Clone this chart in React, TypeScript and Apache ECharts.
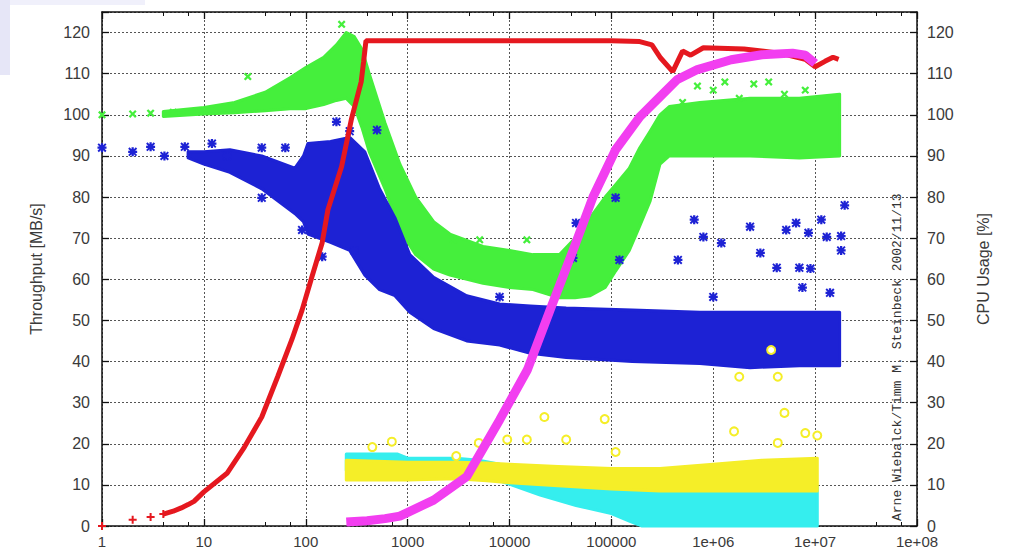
import React, { useEffect, useRef } from "react";
import * as echarts from "echarts";

// ---------- tick labels ----------
const xTickLabels = ["1", "10", "100", "1000", "10000", "100000", "1e+06", "1e+07", "1e+08"];

// ---------- Throughput: red (+) ----------
const redMarkX = [1, 2, 3, 4];
const redMarkY = [0, 1.5, 2.2, 2.9];
const redX = [4, 5, 6, 7, 8, 10, 17, 25, 37, 53, 73, 92, 115, 145, 165, 225, 280, 310, 350, 370, 390, 1000, 10000, 100000,
  190000, 250000, 300000, 400000, 500000, 600000, 800000, 2000000, 4500000, 8000000, 10000000, 12500000, 15000000, 17000000];
const redY = [2.9, 3.6, 4.4, 5.2, 6, 8.3, 12.9, 19.2, 26.5, 36.3, 45.3, 52.5, 60.6, 68.9, 76.9, 87.4, 98.8, 103, 108, 113, 118, 118, 118, 118,
  117.8, 117, 114, 110.5, 115.5, 114.5, 116.3, 116, 115, 113.5, 111.7, 113, 114, 113.5];

// ---------- Throughput: green (x) ----------
const greenX = [4, 10, 20, 40, 70, 100, 150, 200, 250, 300, 355, 420, 600, 840, 1200, 1800, 2600, 5500, 10000, 17000,
  31000, 44000, 62000, 87000, 110000, 150000, 190000, 240000, 300000, 370000, 740000, 2300000, 7000000, 17400000];
const greenUp = [100.8, 101.8, 103, 105.5, 109, 111.5, 114, 117, 120, 119, 116, 110, 98, 88, 80, 74, 71, 68, 67, 66,
  66, 70, 75, 80, 83, 87, 92, 96, 100, 102, 103, 104, 104, 105];
const greenLo = [99.6, 100.2, 100.5, 101, 101.5, 101.5, 102.5, 103.5, 104, 102, 97, 91, 82, 72, 66, 62.5, 61, 59, 58, 57.5,
  55.5, 55.5, 56, 58, 62, 67, 73, 79, 88, 90, 90, 90, 89.5, 90];
const greenPtX = [1, 2, 3, 5, 27, 225, 2800, 5100, 14800, 500000, 700000, 1000000, 1300000, 1800000, 2500000, 3500000, 5000000, 8000000];
const greenPtY = [100, 100.2, 100.4, 100.6, 109.3, 122, 69.6, 69.6, 69.6, 103, 107, 106, 108, 104, 107.5, 108, 105, 106];

// ---------- Throughput: blue (*) ----------
const blueX = [7, 10, 18, 37, 78, 95, 105, 175, 270, 380, 530, 750, 1050, 1800, 3800, 8000, 16000, 36000, 160000, 740000, 2300000, 7000000, 17400000];
const blueUp = [91, 91, 91.5, 90, 87, 90, 93, 93.5, 94.5, 91, 82, 75, 66, 60.5, 56, 54, 53.5, 53, 52.5, 52, 52, 52, 52];
const blueLo = [89.5, 88, 86, 82, 76, 74, 71, 69, 67, 61, 57.5, 56, 52, 48, 45, 44, 42, 41, 40, 39.5, 38.5, 39, 39];
const bluePtX = [1, 2, 3, 4.1, 6.5, 12, 17, 37, 63, 37, 92, 145, 300, 200, 270, 500, 8000, 42000, 45000, 110000, 120000,
  450000, 650000, 800000, 1200000, 1000000, 2300000, 2900000, 4200000, 5200000, 6500000, 7000000, 9000000, 8600000,
  11500000, 13000000, 18000000, 18000000, 19500000, 7500000, 14000000];
const bluePtY = [92, 91, 92.2, 90, 92.2, 93, 90, 92, 92, 79.8, 72, 65.5, 67, 98.3, 96, 96.3, 55.7, 65.2, 73.7, 79.8, 64.7,
  64.7, 74.5, 70.3, 68.8, 55.7, 72.8, 66.4, 62.8, 72, 73.7, 62.8, 62.6, 71.3,
  74.5, 70.3, 70.5, 67, 78, 58, 56.7];

// ---------- CPU: magenta ----------
const magX = [250, 400, 600, 840, 1800, 3800, 8000, 15000, 25000, 42000, 66000, 110000, 190000, 300000, 440000, 700000, 1500000, 3000000, 6000000, 8000000, 10000000];
const magY = [1, 1.3, 1.8, 2.4, 6.3, 12, 25.8, 38, 52.5, 67, 80, 91.5, 99.5, 104.4, 108.5, 111, 113.4, 114.6, 115, 114.5, 112.5];

// ---------- CPU: cyan ----------
const cyanX = [250, 800, 1000, 3000, 5000, 8000, 20000, 45000, 100000, 150000, 200000, 1000000, 10500000];
const cyanUp = [17.5, 17.5, 16.5, 16.5, 16, 15, 12, 10, 9.5, 9.5, 9.5, 9.5, 9.5];
const cyanLo = [13.5, 13.5, 13, 13, 13, 11, 7.5, 5, 3, 1.2, 0, 0, 0];

// ---------- CPU: yellow (o) ----------
const yelX = [250, 1000, 3000, 6000, 10000, 30000, 100000, 300000, 1000000, 3000000, 10500000];
const yelUp = [16, 15.5, 15.5, 15.3, 15, 14.5, 14, 14, 15, 16, 16.5];
const yelLo = [11.2, 11.2, 11.5, 11, 10.5, 9.8, 9, 8.5, 8.5, 8.5, 8.5];
const yelPtX = [450, 700, 3000, 5000, 9500, 14800, 22000, 36000, 86000, 110000, 1600000, 1800000, 4300000, 5000000, 4300000, 8000000, 10500000, 3700000];
const yelPtY = [19.2, 20.5, 17, 20.2, 21, 21, 26.5, 21, 26, 18, 23, 36.3, 36.3, 27.5, 20.2, 22.6, 22, 42.8];

const C_RED = "#e5181f";
const C_GREEN = "#45ef3c";
const C_BLUE = "#1d22d4";
const C_MAG = "#f23ef0";
const C_CYAN = "#35eeee";
const C_YEL = "#f5ee28";

const PLUS = "path://M3,0h2v3h3v2h-3v3h-2v-3h-3v-2h3z";
const STAR = "path://M3,0h2v3h3v2h-3v3h-2v-3h-3v-2h3z M1.2,0L8,6.8L6.8,8L0,1.2z M6.8,0L8,1.2L1.2,8L0,6.8z";

const FONT = "'Liberation Sans', Arial, Helvetica, sans-serif";

function pairs(xs: number[], ys: number[]) {
  return xs.map((x, i) => [x, ys[i]]);
}

function band(name: string, xs: number[], up: number[], lo: number[], color: string, yAxisIndex: number) {
  return {
    type: "custom",
    name,
    xAxisIndex: 0,
    yAxisIndex,
    silent: true,
    data: xs.map((x, i) => [x, up[i], lo[i]]),
    encode: { x: 0, y: [1, 2] },
    renderItem: (params: any, api: any) => {
      if (params.dataIndex !== 0) return null;
      const top = xs.map((x, i) => api.coord([x, up[i]]));
      const bottom = xs.map((x, i) => api.coord([x, lo[i]])).reverse();
      return {
        type: "polygon",
        shape: { points: top.concat(bottom) },
        style: { fill: color, stroke: color, lineWidth: 3, lineJoin: "round" },
      };
    },
  };
}

export default function App() {
  const ref = useRef<HTMLDivElement>(null);

  useEffect(() => {
    if (!ref.current) return;
    const chart = echarts.init(ref.current, null, { renderer: "svg" });

    const axisLine = { show: true, onZero: false, lineStyle: { color: "#111", width: 1.5 } };
    const tick = { show: true, inside: true, length: 7, lineStyle: { color: "#111", width: 1.3 } };
    const gridLine = { show: true, lineStyle: { color: "#555", type: [2, 2], width: 1 } };
    const label = { color: "#3a3a3a", fontFamily: FONT };

    const option: any = {
      animation: false,
      backgroundColor: "#fff",
      grid: { left: 102, right: 92, top: 12, bottom: 25, outerBoundsMode: "none", containLabel: false },
      graphic: [
        { type: "rect", shape: { x: 0, y: 0, width: 10, height: 75 }, style: { fill: "#e6e6f7" }, silent: true },
        { type: "rect", shape: { x: 10, y: 0, width: 135, height: 5 }, style: { fill: "#f0f0fb" }, silent: true },
        {
          type: "text",
          x: 897,
          y: 521,
          rotation: Math.PI / 2,
          silent: true,
          style: {
            text: "Arne Wiebalck/Timm M. Steinbeck 2002/11/13",
            fill: "#333",
            font: "13px 'Liberation Mono', 'DejaVu Sans Mono', monospace",
            textAlign: "left",
            textVerticalAlign: "middle",
          },
        },
      ],
      xAxis: [
        {
          type: "log",
          logBase: 10,
          min: 1,
          max: 1e8,
          splitNumber: 8,
          position: "bottom",
          axisLine,
          axisTick: tick,
          minorTick: { show: true, splitNumber: 3, length: 4, lineStyle: { color: "#111", width: 1 } },
          minorSplitLine: { show: false },
          axisLabel: {
            ...label,
            fontSize: 15,
            margin: 8,
            showMinLabel: true,
            showMaxLabel: true,
            formatter: (v: number) => xTickLabels[Math.round(Math.log10(v))] ?? "",
          },
          splitLine: gridLine,
        },
        {
          type: "log",
          logBase: 10,
          min: 1,
          max: 1e8,
          splitNumber: 8,
          position: "top",
          axisLine,
          axisTick: tick,
          minorTick: { show: true, splitNumber: 3, length: 4, lineStyle: { color: "#111", width: 1 } },
          axisLabel: { show: false },
          splitLine: { show: false },
        },
      ],
      yAxis: [
        {
          type: "value",
          min: 0,
          max: 125,
          interval: 10,
          position: "left",
          name: "Throughput [MB/s]",
          nameLocation: "middle",
          nameGap: 58,
          nameRotate: 90,
          nameTextStyle: { ...label, fontSize: 16 },
          axisLine,
          axisTick: tick,
          axisLabel: { ...label, fontSize: 16, margin: 12, formatter: (v: number) => (v % 10 === 0 ? String(v) : "") },
          splitLine: gridLine,
        },
        {
          type: "value",
          min: 0,
          max: 125,
          interval: 10,
          position: "right",
          name: "CPU Usage [%]",
          nameLocation: "middle",
          nameGap: 58,
          nameRotate: 90,
          nameTextStyle: { ...label, fontSize: 16 },
          axisLine,
          axisTick: tick,
          axisLabel: { ...label, fontSize: 16, margin: 10, formatter: (v: number) => (v % 10 === 0 ? String(v) : "") },
          splitLine: { show: false },
        },
      ],
      series: [
        {
          type: "line",
          name: "red",
          data: pairs(redX, redY),
          showSymbol: false,
          symbol: "none",
          lineStyle: { color: C_RED, width: 5 },
          silent: true,
        },
        {
          type: "scatter",
          name: "redPts",
          data: pairs(redMarkX, redMarkY),
          symbol: PLUS,
          symbolSize: 8,
          itemStyle: { color: C_RED, opacity: 1 },
          silent: true,
        },
        band("green", greenX, greenUp, greenLo, C_GREEN, 0),
        {
          type: "scatter",
          name: "greenPts",
          data: pairs(greenPtX, greenPtY),
          symbol: PLUS,
          symbolRotate: 45,
          symbolSize: 9,
          itemStyle: { color: C_GREEN, opacity: 1 },
          silent: true,
        },
        band("blue", blueX, blueUp, blueLo, C_BLUE, 0),
        {
          type: "scatter",
          name: "bluePts",
          data: pairs(bluePtX, bluePtY),
          symbol: STAR,
          symbolSize: 9,
          itemStyle: { color: C_BLUE, opacity: 1 },
          silent: true,
        },
        band("cyan", cyanX, cyanUp, cyanLo, C_CYAN, 1),
        band("yellow", yelX, yelUp, yelLo, C_YEL, 1),
        {
          type: "scatter",
          name: "yellowPts",
          yAxisIndex: 1,
          data: pairs(yelPtX, yelPtY),
          symbol: "emptyCircle",
          symbolSize: 8,
          itemStyle: { color: C_YEL, borderColor: C_YEL, borderWidth: 1.5, opacity: 1 },
          silent: true,
        },
        {
          type: "line",
          name: "magenta",
          yAxisIndex: 1,
          data: pairs(magX, magY),
          showSymbol: false,
          symbol: "none",
          lineStyle: { color: C_MAG, width: 9 },
          silent: true,
        },
      ],
    };

    chart.setOption(option);
    return () => chart.dispose();
  }, []);

  return (
    <div
      ref={ref}
      style={{ position: "fixed", left: 0, top: 0, width: 1009, height: 551, background: "#fff" }}
    />
  );
}
